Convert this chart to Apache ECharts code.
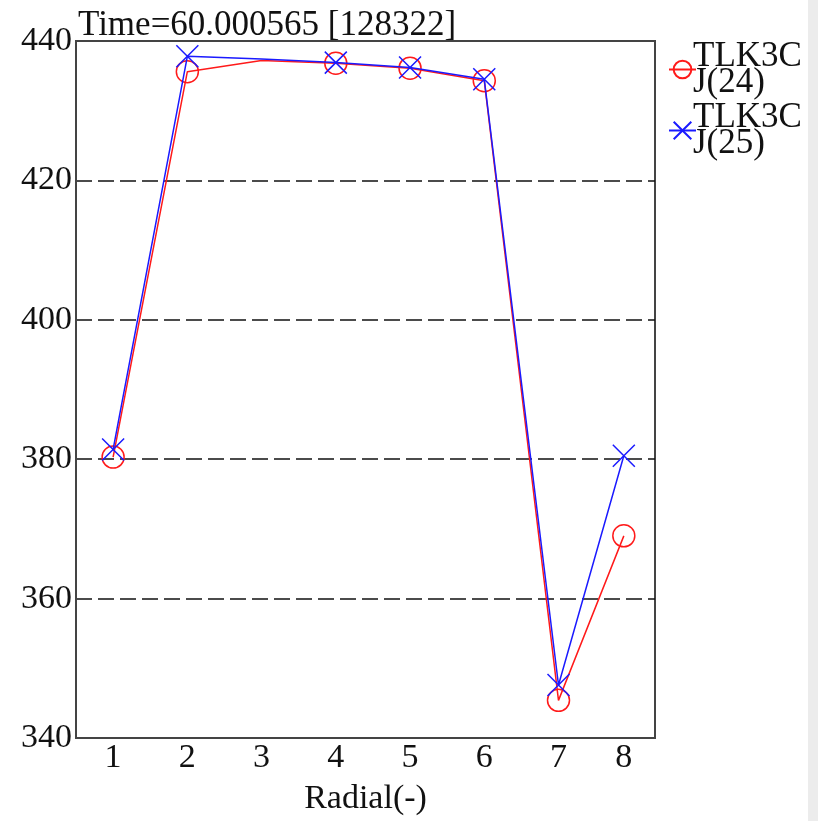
<!DOCTYPE html>
<html>
<head>
    <meta charset="utf-8">
    <script src="https://cdn.jsdelivr.net/npm/echarts@6/dist/echarts.min.js"></script>
    <style>
        html, body { margin: 0; padding: 0; background: #fff; }
    </style>
</head>
<body>
<div id="main" style="width:818px;height:821px;"></div>
<script type="text/javascript">
    // radial positions (x) and the labels shown under them
    var xPos = [1, 2, 3, 4, 5, 6, 7, 7.88];
    var xTickLabels = ['1', '2', '3', '4', '5', '6', '7', '8'];
    // series values
    var j24 = [380.3, 435.6, 437.2, 436.8, 436.1, 434.3, 345.4, 369.0];
    var j25 = [381.4, 437.8, 437.4, 436.9, 436.2, 434.5, 347.6, 380.5];
    // radial 3 has no marker drawn
    var markerOn = [1, 1, 0, 1, 1, 1, 1, 1];
    var seriesNames = ['TLK3C\nJ(24)', 'TLK3C\nJ(25)'];

    var font = '"Liberation Serif", "Times New Roman", serif';

    function toPoints(vals) {
        var out = [];
        for (var i = 0; i < vals.length; i++) {
            var p = {value: [xPos[i], vals[i]]};
            if (!markerOn[i]) p.symbol = 'none';
            out.push(p);
        }
        return out;
    }

    var myChart = echarts.init(document.getElementById('main'));

    var option = {
        backgroundColor: '#fff',
        animation: false,
        title: {
            text: 'Time=60.000565 [128322]',
            left: 73,
            top: 3,
            textStyle: {fontFamily: font, fontSize: 35, fontWeight: 'normal', color: '#111'}
        },
        legend: {
            orient: 'vertical',
            left: 663,
            top: 34,
            itemGap: 0,
            itemWidth: 27,
            itemHeight: 22,
            textStyle: {fontFamily: font, fontSize: 35, lineHeight: 26, color: '#111', padding: [0, 0, 0, -8]},
            data: seriesNames
        },
        grid: {
            left: 76,
            right: 163,
            top: 41,
            bottom: 79,
            show: true,
            borderColor: '#444',
            borderWidth: 2
        },
        xAxis: {
            type: 'value',
            min: 0.5,
            max: 8.3,
            name: 'Radial(-)',
            nameLocation: 'middle',
            nameGap: 44,
            nameTextStyle: {fontFamily: font, fontSize: 34, color: '#111'},
            axisLine: {show: true, lineStyle: {color: '#444', width: 2}},
            axisTick: {show: false},
            splitLine: {show: false},
            axisLabel: {
                customValues: xPos,
                margin: 3,
                fontFamily: font,
                fontSize: 34,
                color: '#111',
                formatter: function (v) {
                    var i = xPos.indexOf(v);
                    return i >= 0 ? xTickLabels[i] : '';
                }
            }
        },
        yAxis: {
            type: 'value',
            min: 340,
            max: 440,
            interval: 20,
            axisLine: {show: true, lineStyle: {color: '#444', width: 2}},
            axisTick: {show: false},
            axisLabel: {margin: 4, fontFamily: font, fontSize: 34, color: '#111'},
            splitLine: {
                show: true,
                showMinLine: false,
                showMaxLine: false,
                lineStyle: {color: '#111', width: 1.5, type: [16, 6]}
            }
        },
        series: [
            {
                name: seriesNames[0],
                type: 'line',
                data: toPoints(j24),
                symbol: 'circle',
                symbolSize: 22,
                showAllSymbol: true,
                lineStyle: {color: '#ff1a1a', width: 1.5},
                itemStyle: {color: 'transparent', borderColor: '#ff1a1a', borderWidth: 1.5},
                z: 2
            },
            {
                name: seriesNames[1],
                type: 'line',
                data: toPoints(j25),
                symbol: 'path://M0,0L10,10M10,0L0,10',
                symbolSize: 22,
                showAllSymbol: true,
                lineStyle: {color: '#1a1aff', width: 1.5},
                itemStyle: {color: 'transparent', borderColor: '#1a1aff', borderWidth: 1.5},
                z: 3
            }
        ],
        graphic: [
            {
                type: 'rect',
                right: 0,
                top: 0,
                shape: {width: 10, height: 821},
                style: {fill: '#ececec'},
                silent: true
            }
        ]
    };

    myChart.setOption(option);
</script>
</body>
</html>
